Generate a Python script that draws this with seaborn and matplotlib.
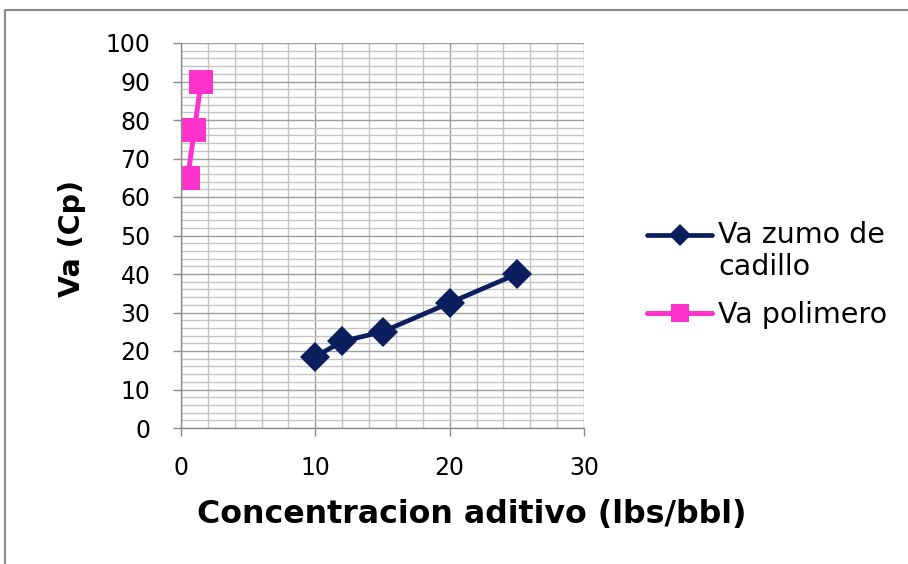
import matplotlib
matplotlib.use("Agg")
import matplotlib.pyplot as plt
import seaborn as sns
import pandas as pd
import numpy as np
from matplotlib.lines import Line2D
from matplotlib.legend_handler import HandlerLine2D

# data
zumo_x = [10, 12, 15, 20, 25]
zumo_y = [18.5, 22.5, 25, 32.5, 40]
poli_x = [0.5, 1.0, 1.5]
poli_y = [65, 77.5, 90]
series_names = ["Va zumo de\ncadillo", "Va polimero"]
x_ticks = [0, 10, 20, 30]
y_ticks = [0, 10, 20, 30, 40, 50, 60, 70, 80, 90, 100]

sns.set_style("white")
plt.rcParams['font.family'] = ['DejaVu Sans']
plt.rcParams['text.color'] = 'black'
plt.rcParams['axes.labelcolor'] = 'black'
plt.rcParams['xtick.labelcolor'] = 'black'
plt.rcParams['ytick.labelcolor'] = 'black'

navy = "#0B1F5E"
pink = "#FF33CC"

df = pd.concat([
    pd.DataFrame({"x": zumo_x, "y": zumo_y, "s": series_names[0]}),
    pd.DataFrame({"x": poli_x, "y": poli_y, "s": series_names[1]}),
])

fig = plt.figure(figsize=(9.08, 5.64), dpi=100)
ax = fig.add_axes([181/908, 1-428/564, (584-181)/908, (428-43)/564])

sns.lineplot(data=df[df.s == series_names[0]], x="x", y="y", ax=ax, color=navy,
             marker="D", markersize=15, markeredgewidth=0, linewidth=3.4, sort=False, legend=False)
sns.lineplot(data=df[df.s == series_names[1]], x="x", y="y", ax=ax, color=pink,
             marker="s", markersize=17.5, markeredgewidth=0, linewidth=3.6, sort=False, legend=False)

ax.set_xlim(0, 30)
ax.set_ylim(0, 100)
ax.set_xticks(x_ticks)
ax.set_yticks(y_ticks)
ax.set_xticks(np.arange(0, 31, 2), minor=True)
ax.set_yticks(np.arange(0, 101, 2), minor=True)
ax.grid(which="minor", color="#C4C4C4", linewidth=1.0)
ax.grid(which="major", color="#9E9E9E", linewidth=1.0)
ax.set_axisbelow(True)
for s in ["top", "right"]:
    ax.spines[s].set_visible(False)
for s in ["left", "bottom"]:
    ax.spines[s].set_color("#8C8C8C")
    ax.spines[s].set_linewidth(1.0)
ax.tick_params(which="major", direction="out", length=6, width=1, color="#8C8C8C",
               labelsize=17, left=True, bottom=True, labelcolor="black")
ax.tick_params(axis="y", which="major", pad=16)
ax.tick_params(axis="x", which="major", pad=14.5)
ax.tick_params(which="minor", length=0)

ax.set_xlabel("Concentracion aditivo (lbs/bbl)", fontsize=22.8, fontweight="bold", color="black")
ax.set_ylabel("Va (Cp)", fontsize=20.5, fontweight="bold", color="black")
ax.xaxis.label.set_verticalalignment("center")
ax.xaxis.set_label_coords((472-181)/403, (428-514)/385)
ax.yaxis.label.set_verticalalignment("center")
ax.yaxis.set_label_coords((72-181)/403, (428-238)/385)


class ShiftedHandler(HandlerLine2D):
    def __init__(self, shift, **kw):
        super().__init__(**kw)
        self.shift = shift

    def create_artists(self, legend, orig_handle, xdescent, ydescent, width, height, fontsize, trans):
        return super().create_artists(legend, orig_handle, xdescent, ydescent - self.shift * fontsize,
                                      width, height, fontsize, trans)


h1 = Line2D([], [], color=navy, marker="D", markersize=11, linewidth=3.4, markeredgewidth=0)
h2 = Line2D([], [], color=pink, marker="s", markersize=13, linewidth=3.6, markeredgewidth=0)
fig.legend([h1, h2], series_names, loc="center left", bbox_to_anchor=(647/908, 1-275/564),
           frameon=False, fontsize=20.5, handlelength=2.3, handletextpad=0.2, labelspacing=0.7,
           borderpad=0, borderaxespad=0, labelcolor="black",
           handler_map={h1: ShiftedHandler(1.2)})

# chart border (Excel frame)
fig.add_artist(Line2D([5/908, 5/908], [0, 1-10/564], transform=fig.transFigure, color="#8A8A8A", linewidth=1.5))
fig.add_artist(Line2D([5/908, 1], [1-10/564, 1-10/564], transform=fig.transFigure, color="#8A8A8A", linewidth=1.5))

fig.savefig("out.png", dpi=100)
